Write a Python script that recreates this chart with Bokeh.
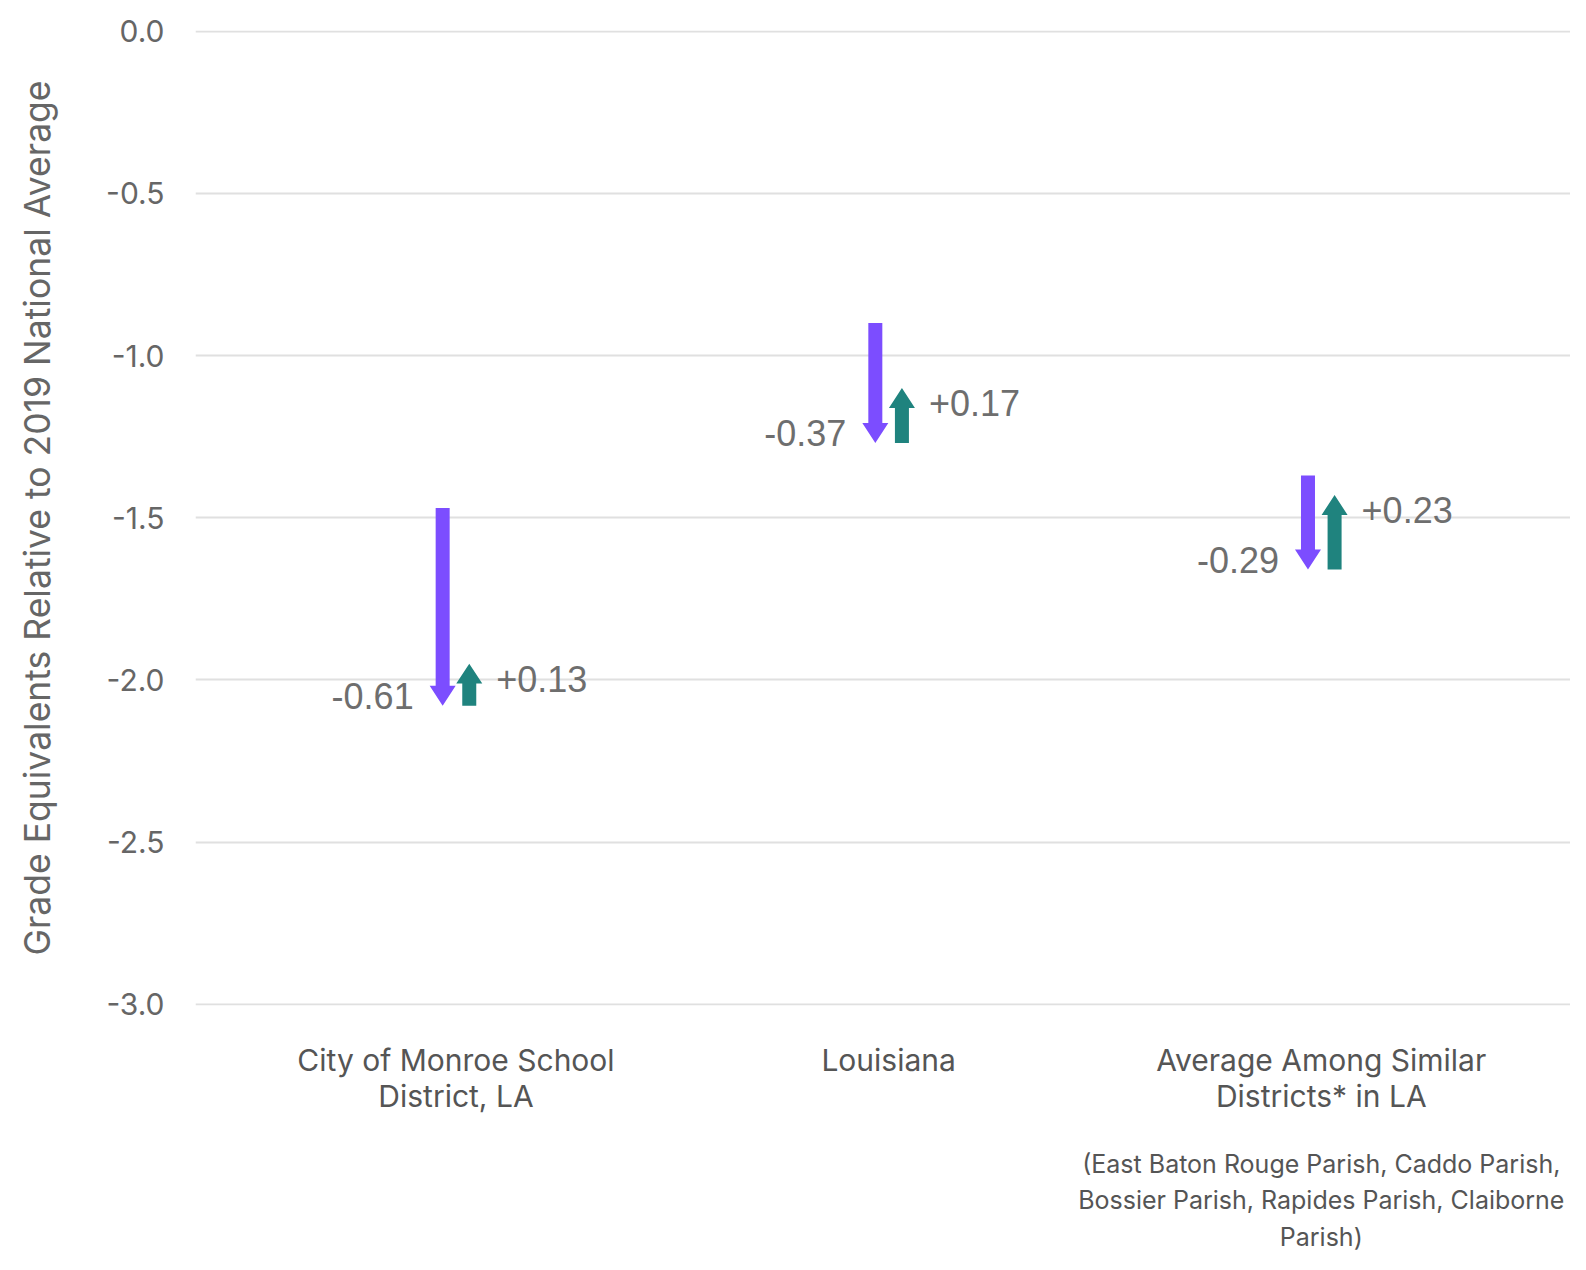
from bokeh.plotting import figure
from bokeh.models import Range1d, FixedTicker, LinearAxis, ColumnDataSource
from bokeh.embed import file_html
from bokeh.resources import INLINE

# ---- data ----
categories = ["City of Monroe School\nDistrict, LA", "Louisiana", "Average Among Similar\nDistricts* in LA"]
start_values = [-1.47, -0.90, -1.37]
drop_values = [-0.61, -0.37, -0.29]
recovery_values = [0.13, 0.17, 0.23]
drop_labels = ["-0.61", "-0.37", "-0.29"]
recovery_labels = ["+0.13", "+0.17", "+0.23"]
y_ticks = [0.0, -0.5, -1.0, -1.5, -2.0, -2.5, -3.0]
footnote = "(East Baton Rouge Parish, Caddo Parish,\nBossier Parish, Rapides Parish, Claiborne\nParish)"

PURPLE = "#7c4dff"
TEAL = "#1f837e"
GRAY = "#666666"

W, H = 1570, 1254
BL, BR, BT = 195, 0, 30
FH = 976
BB = H - BT - FH
FW = W - BL - BR
X0, X1 = -0.602, 2.576
Y0, Y1 = -3.004, 0.002
px_x = FW / (X1 - X0)
px_y = FH / (Y1 - Y0)

p = figure(width=W, height=H, output_backend="svg", toolbar_location=None,
           x_range=Range1d(X0, X1), y_range=Range1d(Y0, Y1),
           min_border_left=BL, min_border_right=BR, min_border_top=BT, min_border_bottom=BB)
p.outline_line_color = None
p.background_fill_color = "white"
p.border_fill_color = "white"

# grid
p.xgrid.grid_line_color = None
p.ygrid.grid_line_color = "#e0e0e0"
p.ygrid.grid_line_width = 2

# y axis
ya = p.yaxis[0]
ya.ticker = FixedTicker(ticks=y_ticks)
ya.major_label_overrides = {t: f"{t:.1f}" for t in y_ticks}
ya.axis_line_color = None
ya.major_tick_line_color = None
ya.minor_tick_line_color = None
ya.major_label_text_font = "Inter"
ya.major_label_text_font_size = "30px"
ya.major_label_text_color = GRAY
ya.major_label_standoff = 25
ya.axis_label = "Grade Equivalents Relative to 2019 National Average"
ya.axis_label_text_font = "Inter"
ya.axis_label_text_font_size = "35.5px"
ya.axis_label_text_font_style = "normal"
ya.axis_label_text_color = GRAY
ya.axis_label_standoff = 44

# x axis (categories)
xa = p.xaxis[0]
xa.ticker = FixedTicker(ticks=[0, 1, 2])
xa.major_label_overrides = {i: c for i, c in enumerate(categories)}
xa.axis_line_color = None
xa.major_tick_line_color = None
xa.minor_tick_line_color = None
xa.major_label_text_font = "Inter"
xa.major_label_text_font_size = "30px"
xa.major_label_text_line_height = 1.005
xa.major_label_text_color = "#555555"
xa.major_label_standoff = 30

# footnote under the third category, as a second bottom axis
foot_axis = LinearAxis(ticker=FixedTicker(ticks=[2]), major_label_overrides={2: footnote},
                       axis_line_color=None, major_tick_line_color=None, minor_tick_line_color=None,
                       major_label_text_font="Inter", major_label_text_font_size="25px",
                       major_label_text_color="#555555", major_label_text_line_height=1.223,
                       major_label_standoff=26)
p.add_layout(foot_axis, "below")

# arrows
OFF = 13.3 / px_x
SHAFT = 14 / px_x
HEAD_W = 26 / px_x
HEAD_L = 20 / px_y

def arrow(xc, y_from, y_to):
    d = 1 if y_to > y_from else -1
    yb = y_to - d * HEAD_L
    xs = [xc - SHAFT / 2, xc + SHAFT / 2, xc + SHAFT / 2, xc + HEAD_W / 2, xc, xc - HEAD_W / 2, xc - SHAFT / 2]
    ys = [y_from, y_from, yb, yb, y_to, yb, yb]
    return xs, ys

pxs, pys, txs, tys = [], [], [], []
drop_end, rec_end, px_pos, tx_pos = [], [], [], []
for i, (s, d, r) in enumerate(zip(start_values, drop_values, recovery_values)):
    e = s + d
    f = e + r
    a = arrow(i - OFF, s, e)
    pxs.append(a[0]); pys.append(a[1])
    b = arrow(i + OFF, e, f)
    txs.append(b[0]); tys.append(b[1])
    drop_end.append(e); rec_end.append(f)
    px_pos.append(i - OFF); tx_pos.append(i + OFF)

p.patches(pxs, pys, fill_color=PURPLE, line_color=None)
p.patches(txs, tys, fill_color=TEAL, line_color=None)

src_d = ColumnDataSource(dict(x=px_pos, y=drop_end, t=drop_labels))
src_r = ColumnDataSource(dict(x=tx_pos, y=rec_end, t=recovery_labels))
p.text(x="x", y="y", text="t", source=src_d, text_align="right", text_baseline="alphabetic",
       x_offset=-29, y_offset=-10, text_font_size="36px", text_color="#6e6e6e",
       text_font={"value": "Liberation Sans"})
p.text(x="x", y="y", text="t", source=src_r, text_align="left", text_baseline="alphabetic",
       x_offset=27, y_offset=15, text_font_size="36px", text_color="#6e6e6e",
       text_font={"value": "Liberation Sans"})

open("out.html", "w").write(file_html(p, INLINE))
